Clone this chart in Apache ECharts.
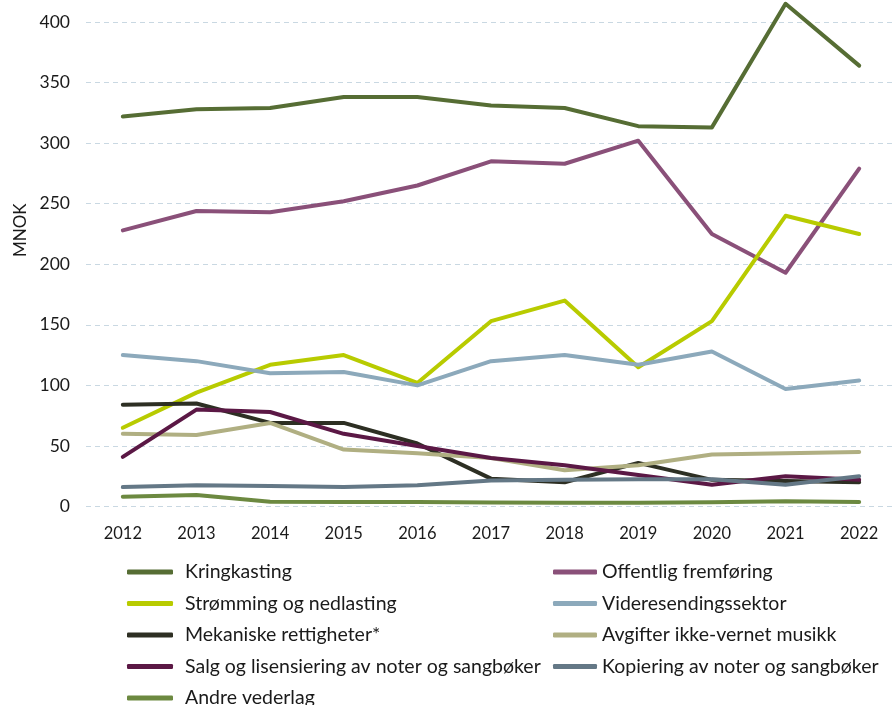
<!DOCTYPE html>
<html>
<head>
<meta charset="utf-8">
<script src="https://cdn.jsdelivr.net/npm/echarts@6/dist/echarts.min.js"></script>
<style>
  html, body { margin: 0; padding: 0; background: #ffffff; }
  #chart { width: 896px; height: 705px; }
</style>
</head>
<body>
<div id="chart"></div>
<script>
// Years on the x axis
const years = ['2012', '2013', '2014', '2015', '2016', '2017', '2018', '2019', '2020', '2021', '2022'];

// Revenue per source, MNOK
const kringkasting   = [322, 328, 329, 338, 338, 331, 329, 314, 313, 415, 364];
const offentlig      = [228, 244, 243, 252, 265, 285, 283, 302, 225, 193, 279];
const stromming      = [65, 94, 117, 125, 102, 153, 170, 115, 153, 240, 225];
const videresending  = [125, 120, 110, 111, 100, 120, 125, 117, 128, 97, 104];
const mekaniske      = [84, 85, 69, 69, 52, 23, 20, 36, 22, 21, 20];
const avgifter       = [60, 59, 69, 47, 44, 40, 30, 34, 43, 44, 45];
const salg           = [41, 80, 78, 60, 50, 40, 34, 26, 18, 25, 22];
const kopiering      = [16, 17.5, 17, 16, 17.5, 21.5, 22, 22.5, 22.5, 18, 25];
const andre          = [8, 9.5, 4, 3.7, 3.7, 3.2, 3, 3, 3.5, 4.3, 3.7];

// Y axis ticks
const yMin = 0, yMax = 400, yStep = 50;

const seriesDefs = [
  { name: 'Kringkasting', data: kringkasting, color: '#566D34' },
  { name: 'Offentlig fremføring', data: offentlig, color: '#8A5079' },
  { name: 'Strømming og nedlasting', data: stromming, color: '#B8CB00' },
  { name: 'Videresendingssektor', data: videresending, color: '#8CA9BB' },
  { name: 'Mekaniske rettigheter*', data: mekaniske, color: '#2D2F23' },
  { name: 'Avgifter ikke-vernet musikk', data: avgifter, color: '#B0AF82' },
  { name: 'Salg og lisensiering av noter og sangbøker', data: salg, color: '#5B1845' },
  { name: 'Kopiering av noter og sangbøker', data: kopiering, color: '#647886' },
  { name: 'Andre vederlag', data: andre, color: '#6C8940' }
];

const FONT = 'Lato, "Open Sans", sans-serif';

const legendText = { fontFamily: FONT, fontSize: 19.5, color: '#1a1a1a', lineHeight: 22 };
const legendCommon = {
  orient: 'vertical',
  icon: 'roundRect',
  padding: 0,
  itemWidth: 46,
  itemHeight: 5,
  itemGap: 9.5,
  height: 200,
  textStyle: legendText
};
const leftText = Object.assign({}, legendText, { padding: [0, 0, 0, 7] });

const chart = echarts.init(document.getElementById('chart'), null, { renderer: 'canvas' });
chart.setOption({
  animation: false,
  backgroundColor: '#ffffff',
  grid: { left: 86, right: 0, top: 22, bottom: 198.5, containLabel: false },
  legend: [
    Object.assign({}, legendCommon, {
      left: 127, top: 561,
      data: ['Kringkasting', 'Strømming og nedlasting', 'Mekaniske rettigheter*',
             'Salg og lisensiering av noter og sangbøker'],
      textStyle: leftText
    }),
    Object.assign({}, legendCommon, {
      left: 127, top: 687,
      data: ['Andre vederlag'],
      textStyle: leftText
    }),
    Object.assign({}, legendCommon, {
      left: 553, top: 561,
      itemWidth: 44,
      data: ['Offentlig fremføring', 'Videresendingssektor', 'Avgifter ikke-vernet musikk',
             'Kopiering av noter og sangbøker']
    })
  ],
  xAxis: {
    type: 'category',
    data: years,
    boundaryGap: true,
    axisLine: { show: false },
    axisTick: { show: false },
    axisLabel: { fontFamily: FONT, fontSize: 16.5, color: '#1a1a1a', margin: 19 }
  },
  yAxis: {
    type: 'value',
    min: yMin, max: yMax, interval: yStep,
    name: 'MNOK',
    nameLocation: 'middle',
    nameGap: 56,
    nameTextStyle: { fontFamily: FONT, fontSize: 17, color: '#1a1a1a', padding: [0, 0, 0, 68] },
    axisLine: { show: false },
    axisTick: { show: false },
    axisLabel: { fontFamily: FONT, fontSize: 17.5, color: '#1a1a1a', margin: 16 },
    splitLine: { show: true, lineStyle: { color: '#c9d8e2', type: [5, 4], width: 1 } }
  },
  series: seriesDefs.map(s => ({
    name: s.name,
    type: 'line',
    data: s.data,
    showSymbol: false,
    symbol: 'none',
    clip: false,
    color: s.color,
    lineStyle: { color: s.color, width: 4, cap: 'round', join: 'round' },
    emphasis: { disabled: true }
  }))
});
</script>
</body>
</html>
